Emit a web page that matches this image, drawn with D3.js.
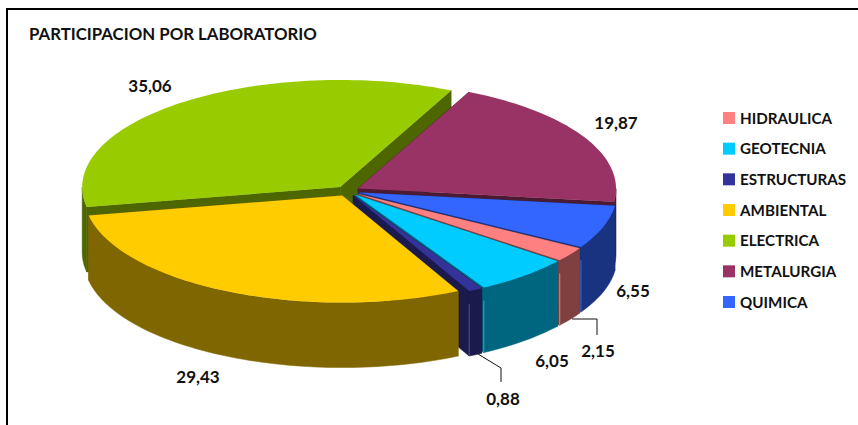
<!DOCTYPE html>
<html><head><meta charset="utf-8">
<script src="https://cdn.jsdelivr.net/npm/d3@7/dist/d3.min.js"></script>
<style>html,body{margin:0;padding:0;background:#fff}svg{display:block}text{font-family:Lato,"Open Sans",sans-serif;font-weight:700;fill:#111}</style>
</head><body><svg id="c" width="858" height="425"></svg>
<script>
const categories=["HIDRAULICA","GEOTECNIA","ESTRUCTURAS","AMBIENTAL","ELECTRICA","METALURGIA","QUIMICA"];
const values=[2.15,6.05,0.88,29.43,35.06,19.87,6.55];
const valueLabels=["2,15","6,05","0,88","29,43","35,06","19,87","6,55"];
const topColors=["#FF8080","#00CCFF","#333399","#FFCC00","#99CC00","#993366","#3366FF"];
const sideColors=["#804040","#006680","#1A1A4D","#806600","#4D6600","#4D1A33","#1A3380"];
const seamColors=["#C09090","#4A9AB0","#55557A",null,null,null,"#4A6AB8"];
const title="PARTICIPACION POR LABORATORIO";

const W=858,H=425,cx=347.5,cy=191,R=258,tilt=0.415,depth=65,explode=12;
const startDeg=120.6;
const svg=d3.select("#c");
svg.append("path").attr("d",`M${W+5},9H7V${H+5}`).attr("fill","none").attr("stroke","#000").attr("stroke-width",2);
svg.append("text").attr("x",29).attr("y",40).attr("font-size",16.8).text(title);

const rad=d=>d*Math.PI/180;
const pie=d3.pie().sort(null).startAngle(rad(startDeg)).endAngle(rad(startDeg+360));
const arcs=pie(values).map((a,i)=>({...a,i,mid:(a.startAngle+a.endAngle)/2}));
const proj=(o,ang,r,dz=0)=>[o[0]+r*Math.sin(ang),o[1]-r*tilt*Math.cos(ang)+dz];
const line=d3.line();
function rim(o,a0,a1,dz){
  const n=Math.max(3,Math.ceil((a1-a0)/rad(1.5)));
  return d3.range(n+1).map(k=>proj(o,a0+(a1-a0)*k/n,R,dz));
}
arcs.forEach(a=>{a.o=proj([cx,cy],a.mid,explode);});
const order=arcs.slice().sort((p,q)=>Math.cos(q.mid)-Math.cos(p.mid));
const g=svg.append("g");
order.forEach(a=>{
  const s=g.append("g");
  const top=rim(a.o,a.startAngle,a.endAngle,0);
  const apexB=[a.o[0],a.o[1]+depth];
  const side=sideColors[a.i];
  const quad=pts=>s.append("path").attr("d",line(pts)+"Z").attr("fill",side).attr("stroke",side).attr("stroke-width",.5);
  // radial walls
  [top[0],top[top.length-1]].forEach(p=>quad([a.o,p,[p[0],p[1]+depth],apexB]));
  // outer band: only the camera-facing half of the rim
  [0,360].forEach(k=>{
    const lo=Math.max(a.startAngle,rad(90+k)),hi=Math.min(a.endAngle,rad(270+k));
    if(hi>lo) quad([...rim(a.o,lo,hi,0),...rim(a.o,lo,hi,depth).reverse()]);
  });
  // thin light seam at the slice's closing edge
  if(seamColors[a.i]){
    const e=top[top.length-1];
    s.append("path").attr("d",line([[e[0],e[1]+depth*.2],[e[0],e[1]+depth]]))
      .attr("stroke",seamColors[a.i]).attr("stroke-width",1).attr("fill","none");
  }
  s.append("path").attr("d",line([a.o,...top])+"Z").attr("fill",topColors[a.i]);
});

// legend
const ly=d3.scalePoint().domain(categories).range([112,296]);
const lg=svg.append("g");
categories.forEach((c,i)=>{
  lg.append("rect").attr("x",723).attr("y",ly(c)).attr("width",12).attr("height",12).attr("fill",topColors[i]);
  lg.append("text").attr("x",740).attr("y",ly(c)+11.5).attr("font-size",15.2).text(c);
});

// value labels
const labelPos=[[598,357],[552,367],[503,405],[198,383],[150,92],[616,129],[633,297]];
valueLabels.forEach((t,i)=>{
  svg.append("text").attr("x",labelPos[i][0]).attr("y",labelPos[i][1]).attr("text-anchor","middle").attr("font-size",17).text(t);
});
// leader lines
[[[572,319],[597,319],[597,335]],[[478,354],[501,368],[501,382]]].forEach(l=>{
  svg.append("path").attr("d",line(l)).attr("fill","none").attr("stroke","#111").attr("stroke-width",1);
});
</script></body></html>
